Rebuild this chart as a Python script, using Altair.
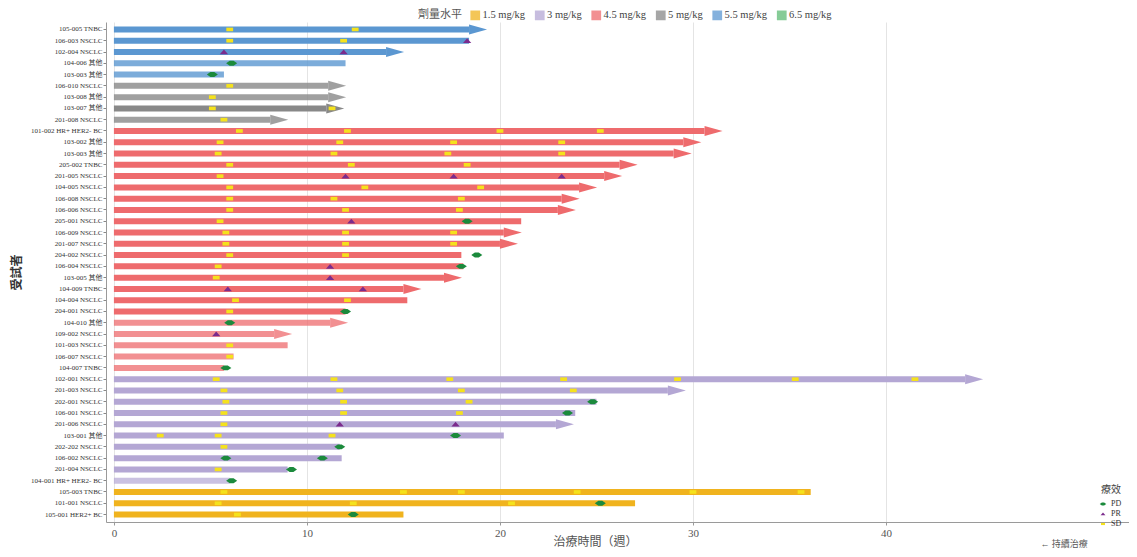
import json
import altair as alt
import pandas as pd

# ---------------- data ----------------
subjects = [
    "105-005 TNBC", "106-003 NSCLC", "102-004 NSCLC", "104-006 其他", "103-003 其他",
    "106-010 NSCLC", "103-008 其他", "103-007 其他", "201-008 NSCLC",
    "101-002 HR+ HER2- BC", "103-002 其他", "103-003 其他", "205-002 TNBC", "201-005 NSCLC",
    "104-005 NSCLC", "106-008 NSCLC", "106-006 NSCLC", "205-001 NSCLC", "106-009 NSCLC",
    "201-007 NSCLC", "204-002 NSCLC", "106-004 NSCLC", "103-005 其他", "104-009 TNBC",
    "104-004 NSCLC", "204-001 NSCLC", "104-010 其他", "109-002 NSCLC", "101-003 NSCLC",
    "106-007 NSCLC", "104-007 TNBC",
    "102-001 NSCLC", "201-003 NSCLC", "202-001 NSCLC", "106-001 NSCLC", "201-006 NSCLC",
    "103-001 其他", "202-202 NSCLC", "106-002 NSCLC", "201-004 NSCLC", "104-001 HR+ HER2- BC",
    "105-003 TNBC", "101-001 NSCLC", "105-001 HER2+ BC",
]
doses = (["5.5 mg/kg"] * 5 + ["5 mg/kg"] * 4 + ["4.5 mg/kg"] * 22
         + ["3 mg/kg"] * 10 + ["1.5 mg/kg"] * 3)
durations = [
    18.4, 18.4, 14.1, 12.0, 5.7,
    11.1, 11.1, 11.0, 8.1,
    30.6, 29.5, 29.0, 26.2, 25.4, 24.1, 23.2, 23.0, 21.1, 20.2, 20.0, 18.0, 18.1, 17.1, 15.0,
    15.2, 12.0, 11.2, 8.3, 9.0, 6.2, 5.7,
    44.1, 28.7, 25.0, 23.9, 22.9, 20.2, 11.7, 11.8, 9.0, 6.0,
    36.1, 27.0, 15.0,
]
ongoing = [
    1, 0, 1, 0, 0,
    1, 1, 1, 1,
    1, 1, 1, 1, 1, 1, 1, 1, 0, 1, 1, 0, 0, 1, 1, 0, 0, 1, 1, 0, 0, 0,
    1, 1, 0, 0, 1, 0, 0, 0, 0, 0,
    0, 0, 0,
]
shade = [
    1.0, 1.0, 1.0, 0.8, 0.8,
    0.8, 0.8, 1.0, 0.8,
    1.0, 1.0, 1.0, 1.0, 1.0, 1.0, 1.0, 1.0, 1.0, 1.0, 1.0, 1.0, 1.0, 1.0, 1.0,
    1.0, 1.0, 0.75, 0.75, 0.75, 0.75, 0.75,
    1.0, 1.0, 1.0, 1.0, 1.0, 1.0, 1.0, 1.0, 1.0, 0.7,
    1.0, 1.0, 1.0,
]

event_rows = [
    0, 0, 1, 1, 1, 2, 2, 3, 4, 5, 6, 7, 7, 8,
    9, 9, 9, 9, 10, 10, 10, 10, 11, 11, 11, 11, 12, 12, 12,
    13, 13, 13, 13, 14, 14, 14, 15, 15, 15, 16, 16, 16,
    17, 17, 17, 18, 18, 18, 19, 19, 19, 20, 20, 20, 21, 21, 21,
    22, 22, 23, 23, 24, 24, 25, 25, 26, 27, 28, 29, 30,
    31, 31, 31, 31, 31, 31, 31, 32, 32, 32, 32, 33, 33, 33, 33,
    34, 34, 34, 34, 35, 35, 35, 36, 36, 36, 36, 37, 37, 38, 38, 39, 39, 40,
    41, 41, 41, 41, 41, 41, 42, 42, 42, 42, 43, 43,
]
event_weeks = [
    6.0, 12.5, 6.0, 11.9, 18.3, 5.7, 11.9, 6.1, 5.1, 6.0, 5.1, 5.1, 11.3, 5.7,
    6.5, 12.1, 20.0, 25.2, 5.5, 11.7, 17.6, 23.2, 5.4, 11.4, 17.3, 23.2, 6.0, 12.3, 18.3,
    5.5, 12.0, 17.6, 23.2, 6.0, 13.0, 19.0, 6.0, 11.4, 18.0, 6.0, 12.0, 17.9,
    5.5, 12.3, 18.3, 5.8, 12.0, 17.6, 5.8, 12.0, 17.6, 6.0, 12.0, 18.8, 5.4, 11.2, 18.0,
    5.3, 11.2, 5.9, 12.9, 6.3, 12.1, 6.0, 12.0, 6.0, 5.3, 6.0, 6.0, 5.8,
    5.3, 11.4, 17.4, 23.3, 29.2, 35.3, 41.5, 5.7, 11.7, 18.0, 23.8, 5.8, 11.9, 18.4, 24.8,
    5.7, 11.9, 17.9, 23.5, 5.7, 11.7, 17.7, 2.4, 5.4, 11.3, 17.7, 5.7, 11.7, 5.8, 10.8, 5.4, 9.2, 6.1,
    5.7, 15.0, 18.0, 24.0, 30.0, 35.6, 5.4, 12.4, 20.6, 25.2, 6.4, 12.4,
]
event_types = [
    "SD", "SD", "SD", "SD", "PR", "PR", "PR", "PD", "PD", "SD", "SD", "SD", "SD", "SD",
    "SD", "SD", "SD", "SD", "SD", "SD", "SD", "SD", "SD", "SD", "SD", "SD", "SD", "SD", "SD",
    "SD", "PR", "PR", "PR", "SD", "SD", "SD", "SD", "SD", "SD", "SD", "SD", "SD",
    "SD", "PR", "PD", "SD", "SD", "SD", "SD", "SD", "SD", "SD", "SD", "PD", "SD", "PR", "PD",
    "SD", "PR", "PR", "PR", "SD", "SD", "SD", "PD", "PD", "PR", "SD", "SD", "PD",
    "SD", "SD", "SD", "SD", "SD", "SD", "SD", "SD", "SD", "SD", "SD", "SD", "SD", "SD", "PD",
    "SD", "SD", "SD", "PD", "SD", "PR", "PR", "SD", "SD", "SD", "PD", "SD", "PD", "PD", "PD", "SD", "PD", "PD",
    "SD", "SD", "SD", "SD", "SD", "SD", "SD", "SD", "SD", "PD", "SD", "PD",
]

dose_levels = ["1.5 mg/kg", "3 mg/kg", "4.5 mg/kg", "5 mg/kg", "5.5 mg/kg", "6.5 mg/kg"]
dose_colors = ["#f0b31e", "#b4a7d4", "#ee6b6d", "#888888", "#5b97d1", "#5dbb74"]
resp_levels = ["PD", "PR", "SD"]
resp_colors = ["#1b8a3c", "#7b2b8c", "#f5e21c"]
resp_shapes = [
    "M -1 0 L -0.35 -0.45 L 0.35 -0.45 L 1 0 L 0.35 0.45 L -0.35 0.45 Z",
    "M -0.75 0.42 L 0 -0.45 L 0.75 0.42 Z",
    "M -0.62 -0.33 L 0.62 -0.33 L 0.62 0.33 L -0.62 0.33 Z",
]
arrow_shape = "M 0 -1 L 3.6 0 L 0 1 Z"
ticks_x = [0, 10, 20, 30, 40]

# ---------------- tables ----------------
bars = pd.DataFrame({
    "row": list(range(len(subjects))),
    "subject": subjects,
    "dose": doses,
    "start": [0.0] * len(subjects),
    "duration": durations,
    "ongoing": ongoing,
    "op": shade,
})
arrows = bars[bars["ongoing"] == 1]
events = pd.DataFrame({"row": event_rows, "week": event_weeks, "response": event_types})
note = pd.DataFrame({"t": ["← 持續治療"]})

SERIF = "Liberation Serif, Noto Sans CJK TC, serif"

label_expr = json.dumps(subjects, ensure_ascii=False) + "[datum.value]"

xscale = alt.Scale(domain=[-0.41, 52.59], nice=False, zero=False)
yscale = alt.Scale(paddingInner=0, paddingOuter=0.16)

x_axis = alt.Axis(
    values=ticks_x, grid=True, gridColor="#e4e4e4", gridWidth=1,
    domainColor="#9a9a9a", tickColor="#9a9a9a", tickSize=3,
    labelFont=SERIF, labelFontSize=11, labelColor="#555555", labelPadding=2,
    title="治療時間（週）", titleFont=SERIF, titleFontSize=12, titleFontWeight="normal",
    titleColor="#555555", titleX=489, titleY=14, titleBaseline="top",
)
y_axis = alt.Axis(
    labelExpr=label_expr, grid=False, domainColor="#9a9a9a", tickColor="#888888",
    tickSize=3, labelFont=SERIF, labelFontSize=7, labelColor="#333333", labelPadding=1,
    title="受試者", titleFont=SERIF, titleFontSize=12, titleFontWeight="bold",
    titleColor="#333333", titleX=-90, titleY=250, titleAngle=270, titleBaseline="middle",
)

dose_legend = alt.Legend(
    title="劑量水平", orient="none", legendX=312, legendY=-12, direction="horizontal",
    titleOrient="left", titleFont=SERIF, titleFontSize=11, titleFontWeight="normal",
    titleColor="#555555", titlePadding=8, titleBaseline="middle",
    symbolType="square", symbolSize=95, symbolOpacity=0.75, symbolStrokeWidth=0,
    labelFont=SERIF, labelFontSize=10.5, labelColor="#444444", labelOffset=2,
    columnPadding=8.5, padding=0,
)
color_enc = alt.Color("dose:N", scale=alt.Scale(domain=dose_levels, range=dose_colors),
                      legend=dose_legend)

bar_layer = alt.Chart(bars).mark_bar(size=6).encode(
    x=alt.X("start:Q", scale=xscale, axis=x_axis),
    x2="duration:Q",
    y=alt.Y("row:O", scale=yscale, axis=y_axis),
    color=color_enc,
    opacity=alt.Opacity("op:Q", scale=None),
)

arrow_layer = alt.Chart(arrows).mark_point(shape=arrow_shape, size=100, filled=True).encode(
    x=alt.X("duration:Q", scale=xscale),
    y=alt.Y("row:O", scale=yscale),
    color=color_enc,
    opacity=alt.Opacity("op:Q", scale=None),
)

resp_legend = alt.Legend(
    title="療效", orient="none", legendX=993, legendY=463, direction="vertical",
    titleFont=SERIF, titleFontSize=10, titleFontWeight="normal", titleColor="#444444",
    titleAnchor="end", titleAlign="right", titlePadding=5,
    labelFont=SERIF, labelFontSize=8, labelColor="#333333", labelOffset=4,
    labelBaseline="middle", symbolSize=42, rowPadding=0, padding=0,
)
event_layer = alt.Chart(events).mark_point(filled=True, size=121, opacity=1).encode(
    x=alt.X("week:Q", scale=xscale),
    y=alt.Y("row:O", scale=yscale),
    fill=alt.Fill("response:N", scale=alt.Scale(domain=resp_levels, range=resp_colors),
                  legend=resp_legend),
    shape=alt.Shape("response:N", scale=alt.Scale(domain=resp_levels, range=resp_shapes),
                    legend=resp_legend),
)

note_layer = alt.Chart(note).mark_text(
    font=SERIF, fontSize=9, color="#555555", align="center", baseline="middle"
).encode(text="t:N", x=alt.value(958), y=alt.value(522))

chart = alt.layer(bar_layer, arrow_layer, event_layer, note_layer).properties(
    width=1023, height=500,
    autosize=alt.AutoSizeParams(type="none"),
    padding={"left": 98, "top": 14, "right": 0, "bottom": 27},
    background="white",
).configure_view(stroke=None)

chart.save("out.html", embed_options={"renderer": "svg", "actions": False})
